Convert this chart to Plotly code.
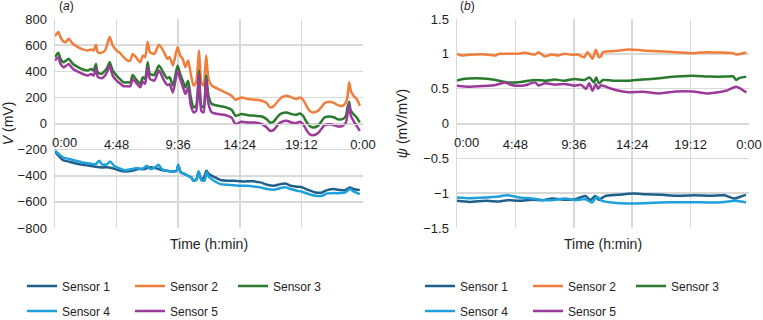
import plotly.graph_objects as go

# ---------------- data: panel (a) V (mV) ----------------
t_top = [0.0, 0.26, 0.43, 0.66, 0.84, 1.06, 1.4, 1.79, 2.17, 2.55, 2.81, 3.01, 3.19, 3.32, 3.6, 3.9,
         4.08, 4.26, 4.5, 4.8, 5.05, 5.35, 5.65, 5.87, 6.05, 6.3, 6.64, 6.84, 7.02, 7.22, 7.4, 7.74,
         8.1, 8.5, 8.75, 8.93, 9.19, 9.55, 9.75, 9.95, 10.16, 10.37, 10.58, 10.8, 11.0, 11.22, 11.4,
         11.58, 11.78, 11.96, 12.22, 12.73, 13.25, 13.76, 14.07, 14.53, 15.04,
         15.6, 16.12, 16.5, 16.76, 17.02, 17.4, 17.66, 18.04, 18.43, 18.81, 19.07, 19.33, 19.59, 19.84,
         20.1, 20.48, 20.74, 21.0, 21.38, 21.77, 22.02, 22.41, 22.67, 22.79, 22.92, 23.05, 23.26, 23.51, 23.75]
v_s2 = [669, 700, 662, 628, 623, 649, 610, 585, 567, 559, 567, 559, 603, 546, 541, 559,
        610, 662, 597, 559, 541, 508, 482, 482, 533, 508, 469, 520, 508, 623, 546, 533,
        603, 546, 495, 508, 444, 585, 520, 495, 431, 482, 379, 290, 315, 559, 315,
        290, 520, 341, 290, 264, 238, 213, 182, 200, 187,
        182, 174, 156, 123, 131, 174, 200, 213, 200, 187, 200, 182, 136, 97,
        85, 97, 123, 156, 167, 156, 141, 136, 162, 200, 315, 251, 213, 187, 136]
v_s3 = [508, 541, 495, 469, 480, 495, 456, 431, 413, 405, 418, 405, 456, 392, 379, 405,
        430, 469, 405, 367, 341, 315, 315, 315, 372, 341, 303, 354, 341, 469, 379, 372,
        444, 379, 345, 354, 290, 444, 379, 330, 277, 328, 200, 123, 136, 405, 136,
        123, 367, 213, 149, 136, 125, 105, 59, 72, 64,
        59, 54, 33, 8, 13, 59, 77, 85, 72, 67, 77, 59, 13, -18,
        -31, -18, 13, 46, 54, 46, 33, 33, 59, 123, 167, 97, 72, 46, 8]
v_s5 = [482, 508, 456, 431, 440, 456, 418, 397, 379, 367, 379, 367, 423, 359, 346, 367,
        400, 444, 367, 328, 308, 285, 285, 285, 341, 315, 277, 321, 303, 431, 341, 328,
        405, 328, 295, 300, 238, 405, 341, 285, 226, 277, 140, 85, 97, 379, 97,
        85, 341, 149, 85, 72, 65, 45, -5, 13, 8,
        8, -5, -31, -56, -51, -5, 13, 21, 8, 3, 13, -5, -49, -82,
        -90, -74, -44, -13, -5, -13, -23, -18, 8, 72, 149, 59, 21, -18, -56]

t_s4 = [0.0, 0.36, 0.62, 1.13, 1.64, 2.16, 2.67, 3.18, 3.44, 3.7, 4.08, 4.29, 4.6, 4.98, 5.49, 6.0,
        6.39, 6.78, 7.16, 7.42, 7.8, 8.06, 8.32, 8.7, 9.09, 9.47, 9.6, 9.8, 10.11, 10.37, 10.63,
        10.76, 11.01, 11.19, 11.4, 11.65, 11.83, 11.99, 12.38, 12.9, 13.41, 13.93, 14.45, 14.97,
        15.49, 16.01, 16.53, 17.05, 17.57, 17.96, 18.34, 18.86, 19.25, 19.77, 20.29, 20.81, 21.2,
        21.72, 22.24, 22.63, 22.96, 23.27, 23.75]
v_s4 = [-209, -239, -260, -272, -285, -298, -306, -311, -285, -316, -311, -290, -323, -341, -357, -349,
        -341, -349, -323, -349, -336, -316, -349, -362, -367, -362, -316, -374, -387, -400, -413,
        -438, -433, -367, -433, -438, -374, -408, -438, -464, -469, -472, -477, -477,
        -482, -489, -502, -507, -494, -489, -502, -515, -522, -540, -553, -553, -535,
        -533, -533, -528, -502, -520, -540]

t_s1 = [0.0, 0.36, 0.62, 1.13, 1.64, 2.16, 2.67, 3.18, 3.7, 4.21, 4.72, 5.1, 5.49, 6.0, 6.5, 7.0,
        7.29, 7.8, 8.32, 8.7, 9.09, 9.47, 9.6, 9.8, 10.11, 10.37, 10.63, 10.76, 11.01, 11.19, 11.4,
        11.6, 11.8, 11.99, 12.38, 12.9, 13.41, 13.93, 14.45, 14.97, 15.49, 16.01, 16.53, 17.05,
        17.57, 17.96, 18.34, 18.86, 19.25, 19.77, 20.29, 20.81, 21.2, 21.72, 22.24, 22.63, 22.96,
        23.27, 23.75]
v_s1 = [-214, -255, -280, -293, -306, -316, -323, -331, -336, -336, -349, -362, -367, -362, -349, -349,
        -336, -341, -357, -362, -367, -362, -320, -374, -387, -400, -413, -435, -430, -370, -428,
        -413, -362, -387, -408, -433, -438, -438, -443, -443, -443, -451, -469, -477,
        -464, -459, -477, -484, -489, -510, -528, -528, -510, -502, -510, -510, -489,
        -502, -510]

# ---------------- data: panel (b) psi (mV/mV) ----------------
tp_s2 = [0.0, 0.49, 1.02, 2.1, 3.18, 3.45, 4.8, 5.61, 6.42, 6.69, 7.23, 7.77, 8.31, 8.85, 9.39, 9.93,
         10.46, 10.73, 11.14, 11.41, 11.66, 11.85, 11.99, 12.81, 14.18, 15.28, 16.65, 18.02, 19.39,
         20.49, 21.58, 22.68, 22.96, 23.78]
p_s2 = [1.0, 0.976, 0.986, 0.995, 0.976, 1.0, 1.0, 1.014, 0.99, 1.024, 0.962, 0.99, 0.976, 1.0, 0.986, 0.99,
        0.95, 1.024, 0.93, 1.058, 0.95, 0.97, 1.024, 1.038, 1.063, 1.048, 1.038, 1.024, 1.01,
        1.024, 1.019, 1.01, 0.99, 1.019]

tp_s3 = [0.0, 0.49, 1.56, 2.64, 3.45, 4.13, 4.8, 5.61, 6.42, 7.23, 8.04, 8.85, 9.66, 10.46, 10.9,
         11.25, 11.44, 11.66, 11.99, 12.81, 14.18, 15.28, 16.65, 18.02, 19.39, 20.76, 22.13, 22.68,
         22.96, 23.23, 23.78]
p_s3 = [0.615, 0.64, 0.65, 0.64, 0.615, 0.59, 0.59, 0.606, 0.625, 0.615, 0.63, 0.615, 0.64, 0.625, 0.66,
        0.59, 0.66, 0.577, 0.625, 0.615, 0.615, 0.63, 0.65, 0.673, 0.687, 0.673, 0.673, 0.678,
        0.625, 0.654, 0.673]

tp_s5 = [0.0, 1.02, 2.1, 3.18, 3.99, 4.26, 4.8, 5.61, 6.42, 6.69, 7.23, 8.04, 8.85, 9.66, 10.2, 10.6,
         10.87, 11.14, 11.41, 11.6, 11.85, 12.5, 13.3, 14.1, 15.28, 16.65, 18.02, 19.39, 20.49, 22.13,
         22.96, 23.78]
p_s5 = [0.543, 0.529, 0.538, 0.553, 0.59, 0.567, 0.543, 0.55, 0.59, 0.545, 0.577, 0.558, 0.567, 0.543,
        0.555, 0.495, 0.577, 0.47, 0.567, 0.5, 0.55, 0.51, 0.47, 0.447, 0.456, 0.432, 0.46, 0.46, 0.432,
        0.47, 0.529, 0.447]

tp_s1 = [0.0, 1.03, 2.39, 3.48, 4.16, 5.11, 6.2, 7.02, 7.83, 8.92, 9.74, 10.55, 10.96, 11.37, 11.64,
         12.19, 13.27, 14.44, 15.45, 16.81, 18.17, 19.53, 20.89, 21.98, 22.79, 23.34, 23.75]
p_s1 = [-1.11, -1.125, -1.11, -1.12, -1.10, -1.11, -1.096, -1.10, -1.077, -1.096, -1.086, -1.04, -1.10,
        -1.04, -1.096, -1.04, -1.024, -1.005, -1.014, -1.024, -1.038, -1.03, -1.038, -1.03, -1.077,
        -1.048, -1.024]

tp_s4 = [0.0, 1.03, 2.39, 3.21, 4.16, 5.11, 6.2, 7.02, 7.83, 8.92, 9.74, 10.55, 11.1, 11.5, 11.91,
         12.73, 14.44, 15.45, 16.81, 18.17, 19.53, 20.89, 21.98, 22.79, 23.34, 23.75]
p_s4 = [-1.062, -1.072, -1.062, -1.053, -1.029, -1.062, -1.077, -1.10, -1.10, -1.077, -1.10, -1.086,
        -1.134, -1.053, -1.11, -1.134, -1.149, -1.144, -1.134, -1.13, -1.13, -1.134, -1.125, -1.11,
        -1.12, -1.134]

names = ["Sensor 1", "Sensor 2", "Sensor 3", "Sensor 4", "Sensor 5"]
colors = ["#1f5f8a", "#f07d3a", "#2a7a2e", "#1ea0dc", "#9b3a9b"]
tick_vals = [0, 4.8, 9.6, 14.4, 19.2, 24]
tick_text = ["", "4:48", "9:36", "14:24", "19:12", "0:00"]
first_tick_text = "0:00"

left = [(t_s1, v_s1), (t_top, v_s2), (t_top, v_s3), (t_s4, v_s4), (t_top, v_s5)]
right = [(tp_s1, p_s1), (tp_s2, p_s2), (tp_s3, p_s3), (tp_s4, p_s4), (tp_s5, p_s5)]

W, H = 763, 320
FONT = "Liberation Sans, Arial, sans-serif"
GRID = "#d9d9d9"

fig = go.Figure()
draw_order = [0, 3, 1, 2, 4]
for i in draw_order:
    t, v = left[i]
    fig.add_trace(go.Scatter(x=t, y=v, mode="lines", name=names[i], xaxis="x", yaxis="y",
                             line=dict(color=colors[i], width=2.5, shape="spline", smoothing=0.6),
                             legend="legend" if i == 0 else f"legend{i + 1}", hoverinfo="skip"))
for i in draw_order:
    t, v = right[i]
    fig.add_trace(go.Scatter(x=t, y=v, mode="lines", name=names[i], xaxis="x2", yaxis="y2",
                             line=dict(color=colors[i], width=2.5, shape="spline", smoothing=0.6),
                             legend=f"legend{i + 6}", hoverinfo="skip"))

y_dom = [1 - 228 / H, 1 - 19 / H]
mid = (y_dom[0] + y_dom[1]) / 2

xcommon = dict(range=[0, 24], tickvals=tick_vals, ticktext=tick_text, showgrid=True,
               gridcolor=GRID, gridwidth=1.5, showline=True, linecolor=GRID, linewidth=1.5,
               zeroline=False, ticks="", ticklabelstandoff=8, anchor="free", position=mid,
               automargin=False, tickfont=dict(size=13, color="#222", family=FONT))
ycommon = dict(domain=y_dom, showgrid=True, gridcolor=GRID, gridwidth=1.5, showline=True,
               linecolor=GRID, linewidth=1.5, zeroline=True, zerolinecolor=GRID, zerolinewidth=1.5,
               ticks="", ticklabelstandoff=4, automargin=False,
               tickfont=dict(size=13, color="#222", family=FONT),
               title_font=dict(size=14, color="#222", family=FONT))

fig.update_layout(
    width=W, height=H, margin=dict(l=0, r=0, t=0, b=0, autoexpand=False),
    paper_bgcolor="white", plot_bgcolor="white", showlegend=True,
    font=dict(family=FONT, size=12, color="#222"),
    xaxis=dict(domain=[55 / W, 363 / W], **xcommon),
    xaxis2=dict(domain=[457 / W, 749 / W], **xcommon),
    yaxis=dict(range=[-800, 800], dtick=200, title=dict(text="<i>V</i> (mV)", standoff=6),
               anchor="x", **ycommon),
    yaxis2=dict(range=[-1.5, 1.5], dtick=0.5, title=dict(text="<i>ψ</i> (mV/mV)", standoff=12),
                anchor="x2", **ycommon),
    annotations=[
        dict(text="(<i>a</i>)", x=57 / W, y=1 - 6 / H, xref="paper", yref="paper",
             xanchor="left", yanchor="middle", showarrow=False, font=dict(size=12)),
        dict(text="(<i>b</i>)", x=458 / W, y=1 - 6 / H, xref="paper", yref="paper",
             xanchor="left", yanchor="middle", showarrow=False, font=dict(size=12)),
        dict(text="Time (h:min)", x=(55 + 363) / 2 / W, y=1 - 244 / H, xref="paper", yref="paper",
             xanchor="center", yanchor="middle", showarrow=False, font=dict(size=14)),
        dict(text="Time (h:min)", x=(457 + 749) / 2 / W, y=1 - 244 / H, xref="paper", yref="paper",
             xanchor="center", yanchor="middle", showarrow=False, font=dict(size=14)),
        # first "0:00" label sits just right of the axis, as in the reference
        dict(text=first_tick_text, x=0, xref="x", y=mid, yref="paper", xanchor="left",
             yanchor="top", xshift=-5, yshift=-9, showarrow=False,
             font=dict(size=13, color="#222", family=FONT)),
        dict(text=first_tick_text, x=0, xref="x2", y=mid, yref="paper", xanchor="left",
             yanchor="top", xshift=-5, yshift=-9, showarrow=False,
             font=dict(size=13, color="#222", family=FONT)),
    ],
)

# legends: one per entry, positioned as in the reference
leg_x = [22, 130, 233, 22, 130]
leg_y = [286, 286, 286, 311, 311]
for panel, off in ((0, 0), (1, 398)):
    for i in range(5):
        key = "legend" if (panel == 0 and i == 0) else f"legend{panel * 5 + i + 1}"
        fig.update_layout({key: dict(x=(leg_x[i] + off) / W, y=1 - leg_y[i] / H, xanchor="left",
                                     yanchor="middle", orientation="h", bgcolor="rgba(0,0,0,0)",
                                     visible=True,
                                     font=dict(size=12, color="#222", family=FONT))})

fig.write_html("out.html", config={"displayModeBar": False, "staticPlot": True},
               post_script="document.body.style.margin='0px';document.body.style.overflow='hidden';")
